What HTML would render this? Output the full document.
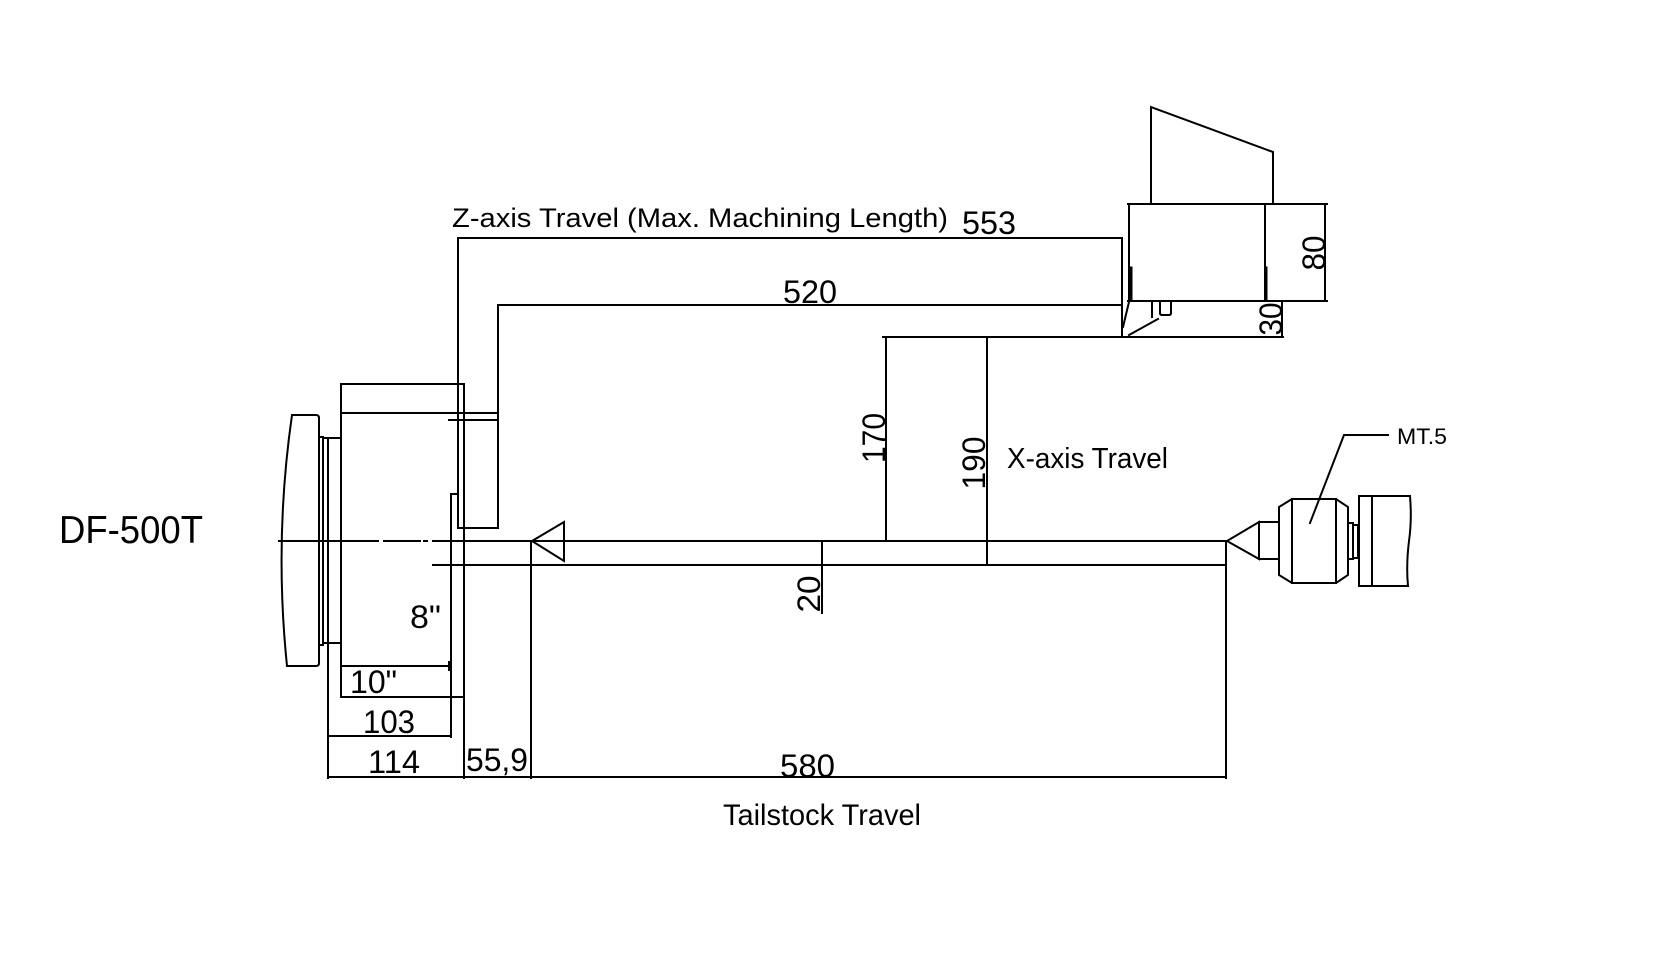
<!DOCTYPE html>
<html><head><meta charset="utf-8"><style>
html,body{margin:0;padding:0;background:#fff;}
svg{display:block;}
.n{font-family:"Liberation Sans",Arial,sans-serif;font-size:32px;fill:#000;}
.c{font-family:"Liberation Sans",Arial,sans-serif;fill:#000;}
</style></head><body>
<svg width="1664" height="964" viewBox="0 0 1664 964" xmlns="http://www.w3.org/2000/svg">
<rect width="1664" height="964" fill="#fff"/>
<g stroke="#000" stroke-width="2" fill="none" stroke-linecap="square">
<!-- chuck backplate -->
<path d="M292,415 L316,415 Q319,415 319,418 L319,663 Q319,666 316,666 L287,666 Q274,540 292,415 Z"/>
<rect x="319" y="437" width="4" height="208"/>
<rect x="323" y="438" width="5" height="205"/>
<rect x="328" y="438" width="13" height="205"/>
<!-- chuck body -->
<rect x="341" y="384" width="123" height="313"/>
<line x1="341" y1="413" x2="498" y2="413"/>
<line x1="464" y1="697" x2="464" y2="778"/>
<line x1="341" y1="666" x2="449" y2="666"/>
<line x1="449" y1="662" x2="449" y2="670"/>
<line x1="451" y1="494" x2="451" y2="737"/>
<line x1="451" y1="494" x2="458" y2="494"/>
<line x1="328" y1="643" x2="328" y2="778"/>
<line x1="328" y1="736" x2="451" y2="736"/>
<line x1="328" y1="777" x2="1226" y2="777"/>
<line x1="531" y1="541" x2="531" y2="778"/>
<line x1="1226" y1="541" x2="1226" y2="778"/>
<!-- Z U-shape -->
<line x1="458" y1="238" x2="458" y2="528"/>
<line x1="458" y1="528" x2="498" y2="528"/>
<line x1="498" y1="305" x2="498" y2="528"/>
<line x1="449" y1="420" x2="498" y2="420"/>
<!-- 553 / 520 -->
<line x1="458" y1="238" x2="1121" y2="238"/>
<line x1="1122" y1="238" x2="1122" y2="337"/>
<line x1="498" y1="305" x2="1122" y2="305"/>
<line x1="883" y1="337" x2="1283" y2="337"/>
<line x1="886" y1="337" x2="886" y2="541"/>
<line x1="987" y1="337" x2="987" y2="564"/>
<!-- centerline -->
<line x1="279" y1="541" x2="378" y2="541"/>
<line x1="384" y1="541" x2="420" y2="541"/>
<line x1="424" y1="541" x2="427" y2="541"/>
<line x1="433" y1="541" x2="1227" y2="541"/>
<line x1="433" y1="565" x2="1226" y2="565"/>
<polygon points="532,541 564,522 564,561"/>
<line x1="822" y1="541" x2="822" y2="613"/>
<!-- turret -->
<path d="M1151,203 L1151,107 L1273,152 L1273,203"/>
<line x1="1128" y1="204" x2="1327" y2="204"/>
<line x1="1128" y1="301" x2="1327" y2="301"/>
<line x1="1129" y1="204" x2="1129" y2="301"/>
<line x1="1265" y1="204" x2="1265" y2="301"/>
<line x1="1325" y1="204" x2="1325" y2="301"/>
<line x1="1131" y1="268" x2="1131" y2="300" stroke-width="3"/>
<line x1="1266" y1="268" x2="1266" y2="300" stroke-width="3"/>
<line x1="1282" y1="301" x2="1282" y2="337"/>
<line x1="1123" y1="327" x2="1129" y2="302"/>
<line x1="1152" y1="302" x2="1152" y2="317"/>
<path d="M1160,302 L1160,313 Q1160,315 1162,315 L1169,315 Q1171,315 1171,313 L1171,302"/>
<line x1="1129" y1="335" x2="1158" y2="319"/>
<!-- tailstock -->
<path d="M1227,541 L1259,522 L1259,559 Z"/>
<rect x="1259" y="522" width="20" height="37"/>
<polygon points="1279,507 1292,499 1336,499 1348,507 1348,575 1336,583 1292,583 1279,575"/>
<line x1="1292" y1="499" x2="1292" y2="583"/>
<line x1="1336" y1="499" x2="1336" y2="583"/>
<rect x="1348" y="523" width="5" height="36"/>
<rect x="1353" y="525" width="5" height="33"/>
<path d="M1359,496 L1410,496 Q1412,520 1409,541 Q1406,565 1408,586 L1359,586 Z"/>
<line x1="1372" y1="496" x2="1372" y2="586"/>
<polyline points="1310,523 1344,435 1388,435"/>
</g>
<!-- labels -->
<text class="n" x="962" y="234" textLength="54" lengthAdjust="spacingAndGlyphs">553</text>
<text class="n" x="783" y="303" textLength="54" lengthAdjust="spacingAndGlyphs">520</text>
<text class="n" x="410" y="628" textLength="31" lengthAdjust="spacingAndGlyphs">8"</text>
<text class="n" x="350" y="693" textLength="47" lengthAdjust="spacingAndGlyphs">10"</text>
<text class="n" x="363" y="733" textLength="52" lengthAdjust="spacingAndGlyphs">103</text>
<text class="n" x="368" y="773" textLength="52" lengthAdjust="spacingAndGlyphs">114</text>
<text class="n" x="466" y="771" textLength="62" lengthAdjust="spacingAndGlyphs">55,9</text>
<text class="n" x="780" y="777" textLength="55" lengthAdjust="spacingAndGlyphs">580</text>
<text class="n" transform="translate(885,438) rotate(-90)" text-anchor="middle" textLength="50" lengthAdjust="spacingAndGlyphs">170</text>
<text class="n" transform="translate(985,463) rotate(-90)" text-anchor="middle" textLength="53" lengthAdjust="spacingAndGlyphs">190</text>
<text class="n" transform="translate(820,594) rotate(-90)" text-anchor="middle" textLength="37" lengthAdjust="spacingAndGlyphs">20</text>
<text class="n" transform="translate(1325,253) rotate(-90)" text-anchor="middle" textLength="35" lengthAdjust="spacingAndGlyphs">80</text>
<text class="n" transform="translate(1282,319) rotate(-90)" text-anchor="middle" textLength="33" lengthAdjust="spacingAndGlyphs">30</text>
<text class="c" x="1397" y="444" font-size="22" textLength="50" lengthAdjust="spacingAndGlyphs">MT.5</text>
<text class="c" x="452" y="227" font-size="27" textLength="496" lengthAdjust="spacingAndGlyphs">Z-axis Travel (Max. Machining Length)</text>
<text class="c" x="1007" y="468" font-size="29" textLength="161" lengthAdjust="spacingAndGlyphs">X-axis Travel</text>
<text class="c" x="59" y="543" font-size="39" textLength="144" lengthAdjust="spacingAndGlyphs">DF-500T</text>
<text class="c" x="723" y="825" font-size="30" textLength="198" lengthAdjust="spacingAndGlyphs">Tailstock Travel</text>
</svg>
</body></html>
